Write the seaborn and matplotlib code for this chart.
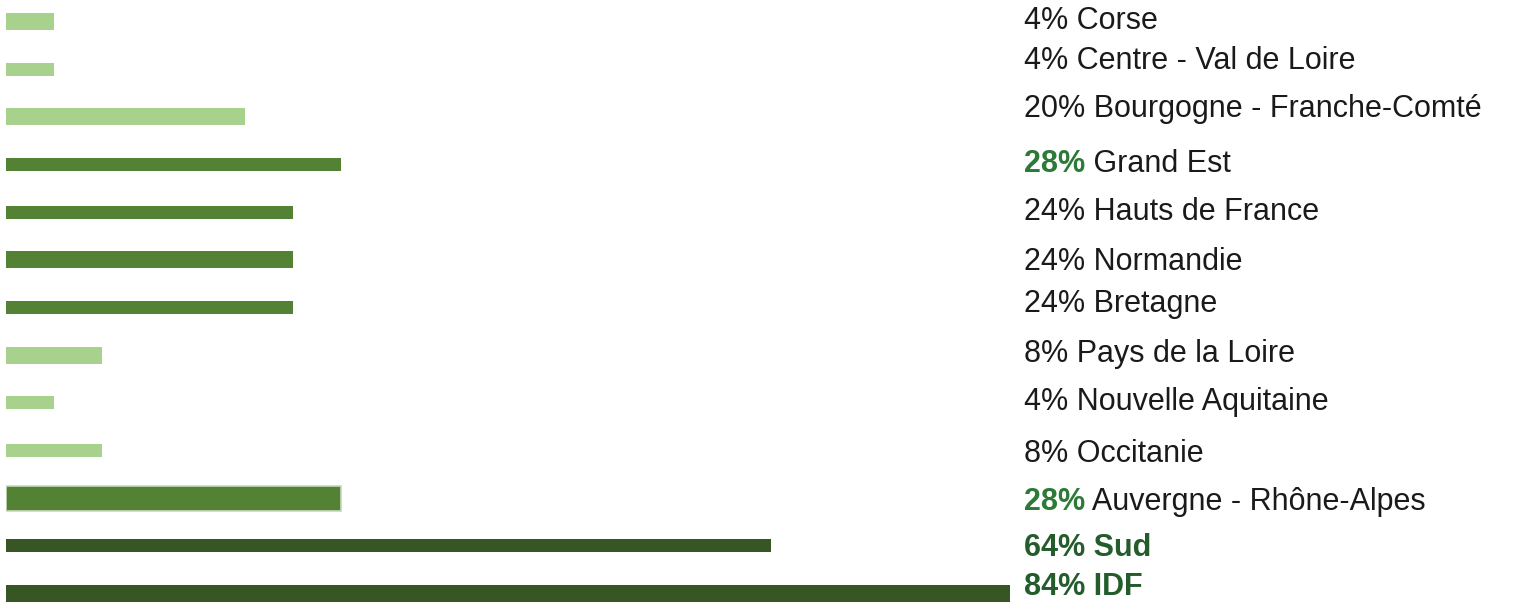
import matplotlib.pyplot as plt
import seaborn as sns
import pandas as pd

# Données : part par région (du haut vers le bas)
regions = [
    "Corse", "Centre - Val de Loire", "Bourgogne - Franche-Comté", "Grand Est",
    "Hauts de France", "Normandie", "Bretagne", "Pays de la Loire",
    "Nouvelle Aquitaine", "Occitanie", "Auvergne - Rhône-Alpes", "Sud", "IDF",
]
shares = [4, 4, 20, 28, 24, 24, 24, 8, 4, 8, 28, 64, 84]

# Style : épaisseur des barres et décalage vertical des étiquettes (pixels),
# le visuel d'origine n'est pas régulier
bar_px = [17, 13, 17, 13, 13, 17, 13, 17, 13, 13, 25, 13, 17]
label_dy = [-3.5, -12, -11.5, -3.5, -4, -1, -6.5, -5, -4, 0, 0, -1, -10]

LIGHT, MID, DARK = "#a9d18e", "#548235", "#375623"
ACCENT, STRONG, TEXT = "#2b7a37", "#245c2c", "#1a1a1a"
FS = 22

df = pd.DataFrame({"region": regions, "share": shares})
colors = [DARK if v >= 60 else MID if v >= 24 else LIGHT for v in shares]

sns.set_style("white")
plt.rcParams["font.family"] = ["Liberation Sans", "DejaVu Sans"]

W, H = 1515, 602
px_x = 11.95   # pixels par point de %
px_y = 47.67   # pixels entre deux catégories

fig = plt.figure(figsize=(W / 100, H / 100), dpi=100)
ax = fig.add_axes([6 / W, 0, 1 - 6 / W, 1])
sns.barplot(data=df, x="share", y="region", hue="region", palette=colors,
            legend=False, orient="h", saturation=1, ax=ax)

ax.set_xlim(0, (W - 6) / px_x)
ax.set_ylim(12 + 8.5 / px_y, -21.5 / px_y)
ax.axis("off")

# épaisseurs individuelles
for i, cont in enumerate(ax.containers):
    for p in cont:
        h = bar_px[i] / px_y
        p.set_y(i - h / 2)
        p.set_height(h)
        p.set_linewidth(0)
        if bar_px[i] > 20:
            p.set_edgecolor("#c8d9bb")
            p.set_linewidth(1.2)

# étiquettes à droite
label_x = 1018 / px_x
for i, (name, v) in enumerate(zip(regions, shares)):
    y = i + (label_dy[i] + 3.5) / px_y
    if v >= 60:
        ax.text(label_x, y, f"{v}% {name}", fontsize=FS, fontweight="bold",
                color=STRONG, va="center")
    elif v == 28:
        t = ax.text(label_x, y, f"{v}%", fontsize=FS, fontweight="bold",
                    color=ACCENT, va="center")
        ax.annotate(f" {name}", xy=(1, 0.5), xycoords=t, va="center",
                    fontsize=FS, color=TEXT)
    else:
        ax.text(label_x, y, f"{v}% {name}", fontsize=FS, color=TEXT, va="center")

fig.savefig("out.png", dpi=100)
plt.close()
